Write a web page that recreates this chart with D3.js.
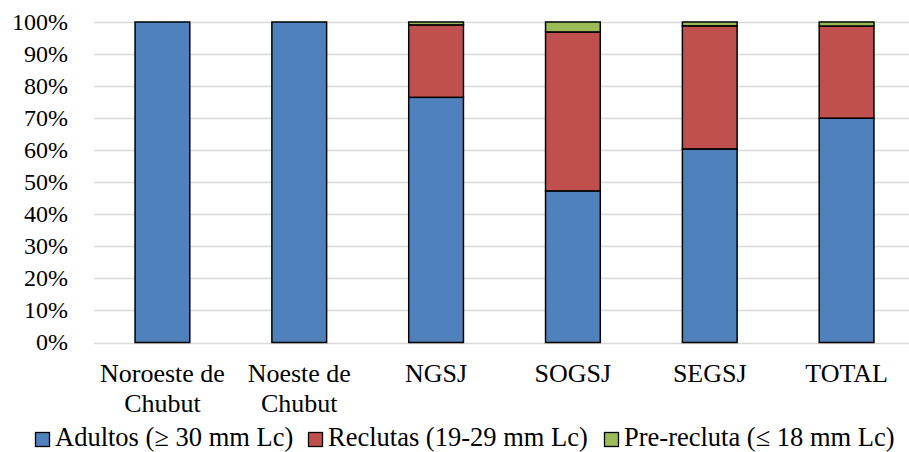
<!DOCTYPE html>
<html lang="es">
<head>
    <meta charset="UTF-8">
    <title>Chart</title>
    <style>
        body { margin: 0; background: #fff; }
    </style>
</head>
<body>
<script src='https://d3js.org/d3.v7.min.js'></script>
<script>
    // Data
    const categories = [["Noroeste de", "Chubut"], ["Noeste de", "Chubut"], ["NGSJ"], ["SOGSJ"], ["SEGSJ"], ["TOTAL"]];
    const seriesNames = ["Adultos (\u2265 30 mm Lc)", "Reclutas (19-29 mm Lc)", "Pre-recluta (\u2264 18 mm Lc)"];
    const adultos = [100, 100, 76.5, 47.3, 60.4, 70.0];
    const reclutas = [0, 0, 22.6, 49.6, 38.4, 28.75];
    const prerecluta = [0, 0, 0.9, 3.1, 1.2, 1.25];
    const yTicks = [0, 10, 20, 30, 40, 50, 60, 70, 80, 90, 100];
    const colors = ["#4F81BD", "#C0504D", "#9BBB59"];

    // Set Dimensions
    const width = 909;
    const height = 452;

    const svg = d3.select("body")
        .append("svg")
        .attr("width", width)
        .attr("height", height);

    // X scale
    const x = d3.scaleBand()
        .domain(d3.range(categories.length))
        .range([94, 915])
        .paddingInner(0.6)
        .paddingOuter(0.3);

    // Y scale
    const y = d3.scaleLinear()
        .domain([0, 100])
        .range([342.5, 22]);

    // gridlines
    svg.append("g")
        .selectAll("line")
        .data(yTicks)
        .enter()
        .append("line")
        .attr("x1", 94)
        .attr("x2", width)
        .attr("y1", d => Math.round(y(d)) + 0.5)
        .attr("y2", d => Math.round(y(d)) + 0.5)
        .attr("stroke", "#d9d9d9")
        .attr("stroke-width", 1.5);

    // y axis labels
    svg.append("g")
        .selectAll("text")
        .data(yTicks)
        .enter()
        .append("text")
        .attr("x", 68)
        .attr("y", d => y(d))
        .attr("dy", "0.33em")
        .attr("text-anchor", "end")
        .attr("font-size", 24)
        .style("font-family", "'Liberation Serif'")
        .text(d => d + "%");

    // Stack
    const rows = categories.map((c, i) => ({i: i, a: adultos[i], r: reclutas[i], p: prerecluta[i]}));
    const stack = d3.stack().keys(["a", "r", "p"]);
    const layers = stack(rows);

    svg.append("g")
        .selectAll("g")
        .data(layers)
        .enter()
        .append("g")
        .attr("fill", (d, i) => colors[i])
        .selectAll("rect")
        .data(d => d.filter(s => s[1] - s[0] > 0))
        .enter()
        .append("rect")
        .attr("x", d => x(d.data.i))
        .attr("width", x.bandwidth())
        .attr("y", d => y(d[1]))
        .attr("height", d => y(d[0]) - y(d[1]))
        .attr("stroke", "#000")
        .attr("stroke-width", 1.5);

    // Category labels
    const catG = svg.append("g");
    categories.forEach((lines, i) => {
        const cx = x(i) + x.bandwidth() / 2;
        lines.forEach((l, j) => {
            catG.append("text")
                .attr("text-anchor", "middle")
                .attr("x", cx)
                .attr("y", 382 + j * 30)
                .attr("font-size", 26)
                .style("font-family", "'Liberation Serif'")
                .text(l);
        });
    });

    // Legend
    const legendX = [35, 308, 604];
    const legend = svg.append("g");
    seriesNames.forEach((name, i) => {
        legend.append("rect")
            .attr("x", legendX[i] + 0.5)
            .attr("y", 432.5)
            .attr("width", 14)
            .attr("height", 14)
            .attr("fill", colors[i])
            .attr("stroke", "#000")
            .attr("stroke-width", 1.3);
        legend.append("text")
            .attr("x", legendX[i] + 20)
            .attr("y", 446)
            .attr("font-size", 26.5)
            .style("font-family", "'Liberation Serif'")
            .text(name);
    });
</script>
</body>
</html>
